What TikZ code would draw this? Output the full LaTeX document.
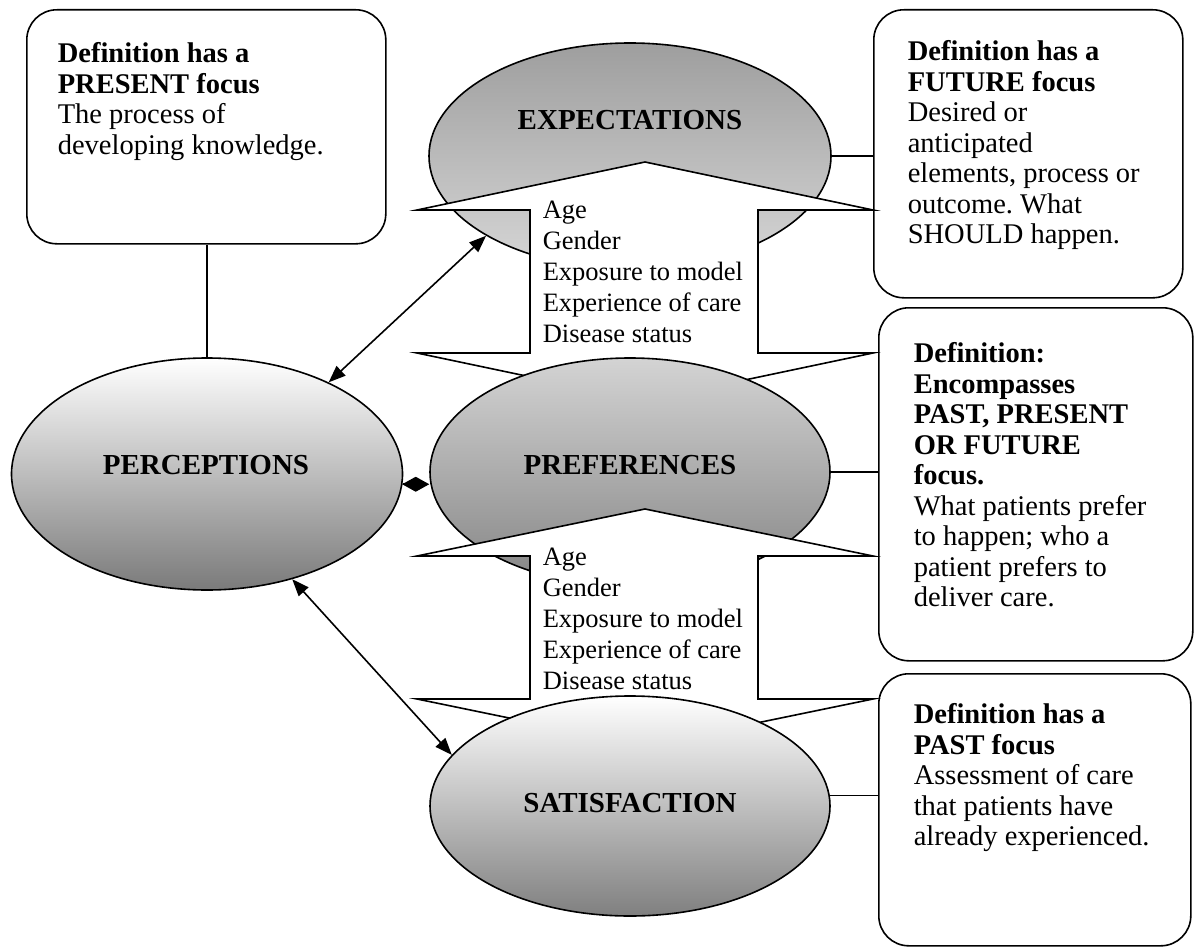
\documentclass[tikz,border=0pt]{standalone}
\usepackage{fontspec}
\setmainfont{Liberation Serif}
\usetikzlibrary{shapes.geometric,arrows.meta}
\newcommand\tstrut{\rule{0pt}{21pt}}
\frenchspacing
\begin{document}
\begin{tikzpicture}[x=1pt,y=-1pt,line width=1.6pt,
  oval/.style={ellipse,draw,inner sep=0pt},
  defbox/.style={draw,rounded corners=30pt,anchor=north west,inner sep=0pt},
  deftext/.style={anchor=north west,inner sep=0pt,align=left,font=\fontsize{28.5}{30.5}\selectfont},
  listtext/.style={anchor=north west,inner sep=0pt,align=left,font=\fontsize{26.5}{30.8}\selectfont},
  ovallabel/.style={font=\bfseries\fontsize{29}{32}\selectfont,inner sep=0pt},
  dbl/.style={{Triangle[length=17pt,width=13pt]}-{Triangle[length=17pt,width=13pt]}},
  bigarrow/.style={draw,fill=white,line join=miter}
]
\useasboundingbox (0,0) rectangle (1197,950);

% definition boxes
\node[defbox,minimum width=359pt,minimum height=234pt] (presbox) at (26,9) {};
\node[defbox,minimum width=309pt,minimum height=288pt] (futbox) at (873,9) {};
\node[defbox,minimum width=314pt,minimum height=353pt] (prefbox) at (878,307) {};
\node[defbox,minimum width=312pt,minimum height=272pt] (pastbox) at (878,673) {};

% ellipses (drawn in layered order with the big arrows)
\node[oval,minimum width=402pt,minimum height=226pt,top color=black!38,bottom color=black!16] (exp) at (630,156) {};
\draw[bigarrow] (645,162) -- (873,210) -- (758,210) -- (758,353) -- (873,353) -- (645,401)
  -- (417,353) -- (530,353) -- (530,210) -- (417,210) -- cycle;
\node[oval,minimum width=400pt,minimum height=228pt,top color=black!17,bottom color=black!48] (pref) at (630,472) {};
\draw[bigarrow] (645,509) -- (873,556) -- (758,556) -- (758,699) -- (873,699) -- (645,746)
  -- (417,699) -- (530,699) -- (530,556) -- (417,556) -- cycle;
\node[oval,minimum width=400pt,minimum height=220pt,top color=white,bottom color=black!50] (sat) at (630,806) {};
\node[oval,minimum width=391pt,minimum height=232pt,top color=white,bottom color=black!52] (perc) at (207,474) {};

% connectors
\draw (perc.north) -- (perc.north |- presbox.south);
\draw (exp.east) -- (exp.east -| futbox.west);
\draw (pref.east) -- (pref.east -| prefbox.west);
\draw (sat.3.7) -- (sat.3.7 -| pastbox.west);
\draw[dbl] (perc.37.3) -- (exp.209.8);
\draw[dbl] (perc.-51.7) -- (sat.164.6);
\draw[-{Diamond[length=27pt,width=15pt]}] (perc.-3.2) -- (perc.-3.2 -| pref.west);

% labels
\node[ovallabel] (expl) at (630,120) {EXPECTATIONS};
\node[ovallabel] (prefl) at (630,465) {PREFERENCES};
\node[ovallabel] (satl) at (630,803) {SATISFACTION};
\node[ovallabel] (percl) at (206,465) {PERCEPTIONS};

\node[listtext] (list1) at (542,197) {\tstrut Age\\Gender\\Exposure to model\\Experience of care\\Disease status};
\node[listtext] (list2) at (542,544) {\tstrut Age\\Gender\\Exposure to model\\Experience of care\\Disease status};

\node[deftext] (prestext) at (57,41) {\tstrut\textbf{Definition has a}\\\textbf{PRESENT focus}\\The process of\\developing knowledge.};
\node[deftext] (futtext) at (907,39) {\tstrut\textbf{Definition has a}\\\textbf{FUTURE focus}\\Desired or\\anticipated\\elements, process or\\outcome. What\\SHOULD happen.};
\node[deftext] (preftext) at (913,341) {\tstrut\textbf{Definition:}\\\textbf{Encompasses}\\\textbf{PAST, PRESENT}\\\textbf{OR FUTURE}\\\textbf{focus.}\\What patients prefer\\to happen; who a\\patient prefers to\\deliver care.};
\node[deftext] (pasttext) at (913,702) {\tstrut\textbf{Definition has a}\\\textbf{PAST focus}\\Assessment of care\\that patients have\\already experienced.};
\end{tikzpicture}
\end{document}
